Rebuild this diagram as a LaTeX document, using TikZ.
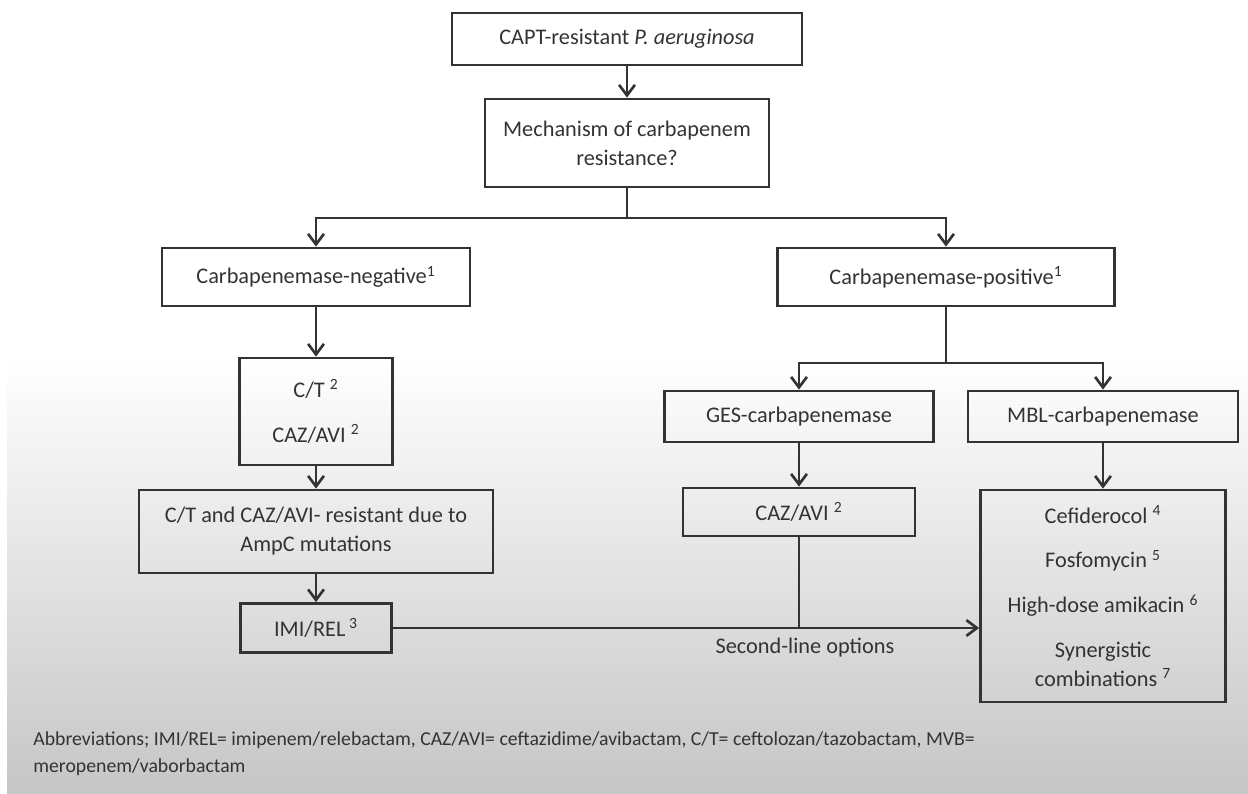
\documentclass[tikz,border=0pt]{standalone}
\usepackage{fontspec}
\setmainfont{Carlito}
\usetikzlibrary{arrows.meta}
\definecolor{ink}{HTML}{333333}
\tikzset{
  box/.style={draw=ink, line width=1.6pt, text=ink, align=center, inner sep=2pt},
  arr/.style={draw=ink, line width=1.5pt, -{Straight Barb[length=6pt,width=9pt]}},
  ln/.style={draw=ink, line width=1.5pt},
}
\begin{document}
\begin{tikzpicture}[x=0.02cm,y=-0.02cm,font=\fontsize{12.7}{16.5}\selectfont]
\useasboundingbox (0,0) rectangle (1248,794);
\shade[top color=white,bottom color=gray!45] (7,357) rectangle (1248,794);
%第一层
\node[box,minimum width=7cm,minimum height=1.04cm] (top) at (627,39) {CAPT-resistant \textit{P. aeruginosa}};
\node[box,minimum width=5.68cm,minimum height=1.76cm] (mech) at (627,143) {Mechanism of carbapenem\\resistance?};
%第二层
\node[box,minimum width=6.16cm,minimum height=1.16cm] (neg) at (316,277) {Carbapenemase-negative\textsuperscript{1}};
\node[box,minimum width=6.74cm,minimum height=1.16cm] (pos) at (946,277) {Carbapenemase-positive\textsuperscript{1}};
%左边
\node[box,minimum width=3.06cm,minimum height=2.14cm] (ct) at (316,411.5) {C/T \textsuperscript{2}\\[9pt]CAZ/AVI \textsuperscript{2}};
\node[box,minimum width=7.08cm,minimum height=1.66cm] (ctres) at (316,531.5) {C/T and CAZ/AVI- resistant due to\\AmpC mutations};
\node[box,minimum width=3.02cm,minimum height=0.98cm] (imi) at (316,628) {IMI/REL\,\textsuperscript{3}};
%右边
\node[box,minimum width=5.38cm,minimum height=1.02cm] (ges) at (799,416.5) {GES-carbapenemase};
\node[box,minimum width=5.4cm,minimum height=1.02cm] (mbl) at (1103,416.5) {MBL-carbapenemase};
\node[box,minimum width=4.64cm,minimum height=0.96cm] (caz) at (799,512) {CAZ/AVI \textsuperscript{2}};
\node[box,minimum width=4.9cm,minimum height=4.24cm] (list) at (1103,596) {Cefiderocol \textsuperscript{4}\\[9pt]Fosfomycin \textsuperscript{5}\\[9pt]High-dose amikacin \textsuperscript{6}\\[9pt]Synergistic\\combinations \textsuperscript{7}};
\node[text=ink] (second) at (805,648) {Second-line options};
%底部
\node[text=ink,anchor=base west,align=left,inner sep=0pt,font=\fontsize{11.25}{15.3}\selectfont] (abbr) at (33,772) {Abbreviations; IMI/REL= imipenem/relebactam, CAZ/AVI= ceftazidime/avibactam, C/T= ceftolozan/tazobactam, MVB=\\meropenem/vaborbactam};

\coordinate (fork1) at (627,218);
\coordinate (fork2) at (946,363);
\coordinate (join) at (799,628);

\draw[arr] (top)--(mech);
\draw[ln] (mech)--(fork1);
\draw[arr] (fork1)-|(neg);
\draw[arr] (fork1)-|(pos);
\draw[arr] (neg)--(ct);
\draw[arr] (ct)--(ctres);
\draw[arr] (ctres)--(imi);
\draw[ln] (pos)--(fork2);
\draw[arr] (fork2)-|(ges);
\draw[arr] (fork2)-|(mbl);
\draw[arr] (ges)--(caz);
\draw[arr] (mbl)--(list);
\draw[ln] (caz)--(join);
\draw[arr] (imi.east)--(imi.east-|list.west);
\end{tikzpicture}
\end{document}
